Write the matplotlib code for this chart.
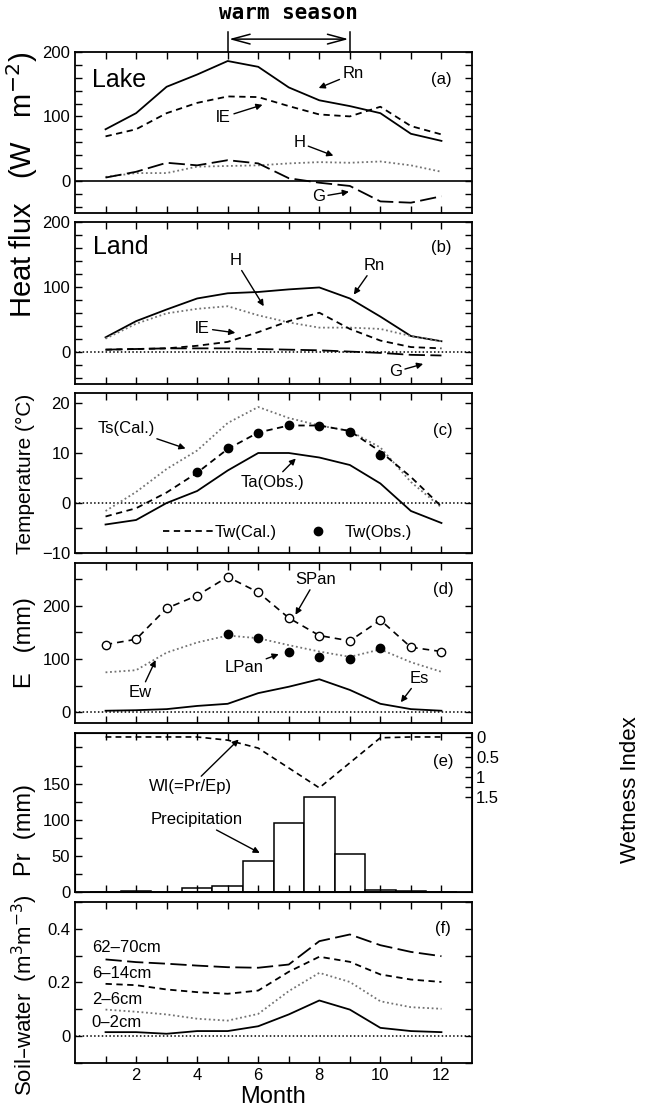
import matplotlib
matplotlib.use("Agg")
import matplotlib.pyplot as plt
from matplotlib.ticker import MultipleLocator, FormatStrFormatter

plt.rcParams['font.family'] = ['Liberation Sans', 'DejaVu Sans']

months = list(range(1, 13))

# (a) lake heat flux, W m-2
lake_rn = [80, 105, 146, 165, 186, 177, 145, 125, 116, 105, 73, 62]
lake_le = [69, 80, 105, 121, 131, 130, 116, 103, 100, 115, 85, 72]
lake_h = [6, 12, 12, 22, 23, 24, 27, 29, 28, 30, 24, 14]
lake_g = [5, 14, 28, 24, 32, 27, 4, -3, -8, -32, -34, -24]

# (b) land heat flux
land_rn = [22, 47, 65, 82, 90, 92, 96, 99, 82, 54, 24, 16]
land_h = [20, 43, 59, 66, 70, 56, 45, 37, 37, 35, 24, 16]
land_le = [3, 4, 5, 9, 15, 30, 47, 60, 35, 17, 7, 5]
land_g = [3, 4, 5, 5, 5, 4, 3, 2, 0, -2, -5, -6]

# (c) temperature
ts_cal = [-1.6, 2.2, 6.8, 10.5, 16.0, 19.2, 17.0, 15.5, 14.4, 11.1, 4.2, -0.9]
tw_cal = [-2.7, -1.05, 2.1, 6.05, 10.8, 14.1, 15.5, 15.5, 14.4, 10.3, 5.2, -0.7]
ta_obs = [-4.3, -3.4, 0.0, 2.4, 6.5, 10.0, 10.0, 9.1, 7.6, 3.9, -1.6, -4.0]
tw_obs_months = [4, 5, 6, 7, 8, 9, 10]
tw_obs = [6.2, 11.1, 14.1, 15.7, 15.5, 14.3, 9.6]

# (d) evaporation
span = [127, 137, 195, 219, 254, 225, 177, 144, 134, 173, 122, 114]
lpan_months = [5, 6, 7, 8, 9, 10]
lpan = [146, 140, 114, 104, 100, 120]
ew = [75, 79, 112, 131, 144, 139, 126, 114, 104, 118, 94, 76]
es = [3, 4, 6, 12, 16, 36, 48, 62, 42, 16, 6, 3]

# (e) precipitation and wetness index
precip = [0, 1, 0, 6, 8, 43, 95, 131, 53, 3, 1, 0]
wi = [0, 0, 0, 0, 0.08, 0.28, 0.78, 1.28, 0.65, 0.02, 0, 0]

# (f) soil water
sw_62_70 = [0.286, 0.276, 0.270, 0.263, 0.257, 0.255, 0.267, 0.354, 0.379, 0.339, 0.314, 0.298]
sw_6_14 = [0.195, 0.190, 0.174, 0.164, 0.158, 0.170, 0.240, 0.296, 0.277, 0.230, 0.211, 0.202]
sw_2_6 = [0.099, 0.091, 0.081, 0.065, 0.058, 0.083, 0.168, 0.236, 0.202, 0.130, 0.108, 0.102]
sw_0_2 = [0.015, 0.015, 0.009, 0.019, 0.019, 0.037, 0.081, 0.133, 0.099, 0.031, 0.019, 0.015]

W, H = 646, 1114
fig = plt.figure(figsize=(W / 100, H / 100), dpi=100)

L, R = 75, 472
rows = [(52, 213), (222, 384), (393, 553), (563, 723), (733, 892), (902, 1063)]
axes = []
for top, bot in rows:
    axes.append(fig.add_axes([L / W, 1 - bot / H, (R - L) / W, (bot - top) / H]))
ax_a, ax_b, ax_c, ax_d, ax_e, ax_f = axes

DOT = (0, (1, 1.5))
SDASH = (0, (3.5, 2.5))
LDASH = (0, (9, 3))
GRAY = '0.45'


def style(ax, ylim, major, minor, right=True):
    ax.set_xlim(0, 13)
    ax.set_ylim(*ylim)
    ax.set_xticks(months)
    ax.set_xticklabels([])
    ax.yaxis.set_major_locator(MultipleLocator(major))
    ax.yaxis.set_minor_locator(MultipleLocator(minor))
    ax.tick_params(which='both', direction='in', top=True, right=right,
                   length=5, width=1, labelsize=12)
    for s in ax.spines.values():
        s.set_linewidth(1.3)


def label(ax, text, xytext, xy, size=12):
    ax.annotate(text, xy=xy, xytext=xytext, ha='center', va='center', fontsize=size,
                arrowprops=dict(arrowstyle='-|>', color='k', lw=1.0,
                                mutation_scale=9, shrinkA=0, shrinkB=0))


# (a)
style(ax_a, (-50, 200), 100, 20)
ax_a.axhline(0, color='k', lw=1.2)
ax_a.plot(months, lake_rn, color='k', lw=1.3)
ax_a.plot(months, lake_le, color='k', lw=1.3, linestyle=SDASH)
ax_a.plot(months, lake_h, color=GRAY, lw=1.3, linestyle=DOT)
ax_a.plot(months, lake_g, color='k', lw=1.3, linestyle=LDASH)
ax_a.text(1.45, 157, 'Lake', fontsize=18, ha='center', va='center')
ax_a.text(12.0, 157, '(a)', fontsize=12, ha='center', va='center')
label(ax_a, 'Rn', (9.1, 166), (7.98, 144))
label(ax_a, 'lE', (4.87, 99), (6.14, 118))
label(ax_a, 'H', (7.35, 59), (8.46, 39))
label(ax_a, 'G', (7.98, -25), (8.97, -17))

trans = ax_a.get_xaxis_transform()
ax_a.plot([5, 5], [1.0, 1.125], transform=trans, color='k', lw=1.1, clip_on=False)
ax_a.plot([9, 9], [1.0, 1.125], transform=trans, color='k', lw=1.1, clip_on=False)
ax_a.annotate('', xy=(9, 1.08), xytext=(5, 1.08), xycoords=trans, textcoords=trans,
              annotation_clip=False,
              arrowprops=dict(arrowstyle='<->,head_length=1.3,head_width=0.35',
                              color='k', lw=1.1, shrinkA=1, shrinkB=1))
ax_a.text(7, 1.24, 'warm season', transform=trans, ha='center', va='center',
          fontsize=15, family='DejaVu Sans Mono', weight='bold')

# (b)
style(ax_b, (-50, 200), 100, 20)
ax_b.axhline(0, color='k', lw=1.1, linestyle=DOT)
ax_b.plot(months, land_rn, color='k', lw=1.3)
ax_b.plot(months, land_h, color=GRAY, lw=1.3, linestyle=DOT)
ax_b.plot(months, land_le, color='k', lw=1.3, linestyle=SDASH)
ax_b.plot(months, land_g, color='k', lw=1.3, linestyle=LDASH)
ax_b.text(1.5, 161, 'Land', fontsize=18, ha='center', va='center')
ax_b.text(12.0, 160, '(b)', fontsize=12, ha='center', va='center')
label(ax_b, 'H', (5.25, 141), (6.18, 70))
label(ax_b, 'Rn', (9.8, 133), (9.13, 88))
label(ax_b, 'lE', (4.17, 36), (5.25, 29))
label(ax_b, 'G', (10.5, -31), (11.4, -19))

# (c)
style(ax_c, (-10, 22), 10, 5)
ax_c.axhline(0, color='k', lw=1.1, linestyle=DOT)
ax_c.plot(months, ts_cal, color=GRAY, lw=1.3, linestyle=DOT)
h_twc, = ax_c.plot(months, tw_cal, color='k', lw=1.3, linestyle=SDASH)
ax_c.plot(months, ta_obs, color='k', lw=1.3)
h_two, = ax_c.plot(tw_obs_months, tw_obs, 'o', color='k', ms=6)
ax_c.text(12.05, 14.5, '(c)', fontsize=12, ha='center', va='center')
label(ax_c, 'Ts(Cal.)', (1.69, 14.9), (3.62, 10.9))
label(ax_c, 'Ta(Obs.)', (6.47, 4.2), (7.23, 8.9))
ax_c.legend([h_twc, h_two], ['Tw(Cal.)', 'Tw(Obs.)'], ncol=2, frameon=False,
            loc='center', bbox_to_anchor=(0.535, 0.13), fontsize=12,
            handlelength=3.0, handletextpad=0.1, columnspacing=1.0)

# (d)
style(ax_d, (-20, 280), 100, 50)
ax_d.axhline(0, color='k', lw=1.1, linestyle=DOT)
ax_d.plot(months, span, color='k', lw=1.2, linestyle=(0, (4, 3)),
          marker='o', mfc='white', mec='k', ms=6)
ax_d.plot(months, ew, color=GRAY, lw=1.3, linestyle=DOT)
ax_d.plot(lpan_months, lpan, 'o', color='k', ms=6)
ax_d.plot(months, es, color='k', lw=1.3)
ax_d.text(12.05, 230, '(d)', fontsize=12, ha='center', va='center')
label(ax_d, 'SPan', (7.89, 249), (7.22, 183))
label(ax_d, 'LPan', (5.53, 85), (6.67, 109))
label(ax_d, 'Ew', (2.15, 38), (2.64, 98))
label(ax_d, 'Es', (11.27, 64), (10.67, 19))

# (e)
style(ax_e, (0, 220), 50, 25, right=False)
ax_e.set_yticks([0, 50, 100, 150])
ax_e.bar(months, precip, width=1.0, color='white', edgecolor='k', lw=1.1)
ax_e2 = ax_e.twinx()
ax_e2.set_ylim(3.9, -0.1)
ax_e2.set_yticks([0, 0.5, 1, 1.5])
ax_e2.set_yticklabels(['0', '0.5', '1', '1.5'])
ax_e2.set_yticks([0.25, 0.75, 1.25], minor=True)
ax_e2.tick_params(which='both', direction='in', length=5, width=1, labelsize=12, pad=3)
ax_e2.plot(months, wi, color='k', lw=1.2, linestyle=SDASH)
ax_e.text(12.05, 181, '(e)', fontsize=12, ha='center', va='center')
label(ax_e, 'WI(=Pr/Ep)', (3.79, 146), (5.36, 211))
label(ax_e, 'Precipitation', (4.0, 100), (6.05, 54))

# (f)
style(ax_f, (-0.1, 0.5), 0.2, 0.1)
ax_f.set_yticks([0, 0.2, 0.4])
ax_f.set_yticklabels(['0', '0.2', '0.4'])
ax_f.set_xticklabels([str(m) if m % 2 == 0 else '' for m in months])
ax_f.axhline(0, color='k', lw=1.1, linestyle=DOT)
ax_f.plot(months, sw_62_70, color='k', lw=1.3, linestyle=LDASH)
ax_f.plot(months, sw_6_14, color='k', lw=1.3, linestyle=SDASH)
ax_f.plot(months, sw_2_6, color=GRAY, lw=1.3, linestyle=DOT)
ax_f.plot(months, sw_0_2, color='k', lw=1.3)
ax_f.text(12.05, 0.40, '(f)', fontsize=12, ha='center', va='center')
for txt, yv in [('62\u201370cm', 0.331), ('6\u201314cm', 0.234),
                ('2\u20136cm', 0.138), ('0\u20132cm', 0.052)]:
    ax_f.text(0.55, yv, txt, fontsize=12, ha='left', va='center')
ax_f.set_xlabel('Month', fontsize=17, labelpad=2)

# y labels
fig.text(22 / W, 1 - 185 / H, 'Heat flux   (W   m$^{-2}$)', rotation=90,
         ha='center', va='center', fontsize=21)
fig.text(25 / W, 1 - 474 / H, 'Temperature (\u00b0C)', rotation=90,
         ha='center', va='center', fontsize=15)
fig.text(25 / W, 1 - 643 / H, 'E   (mm)', rotation=90, ha='center', va='center', fontsize=17)
fig.text(25 / W, 1 - 830 / H, 'Pr  (mm)', rotation=90, ha='center', va='center', fontsize=17)
fig.text(25 / W, 1 - 995 / H, 'Soil\u2013water  (m$^3$m$^{-3}$)', rotation=90,
         ha='center', va='center', fontsize=16)
fig.text(630 / W, 1 - 790 / H, 'Wetness Index', rotation=90,
         ha='center', va='center', fontsize=16)

fig.savefig('out.png', dpi=100)
